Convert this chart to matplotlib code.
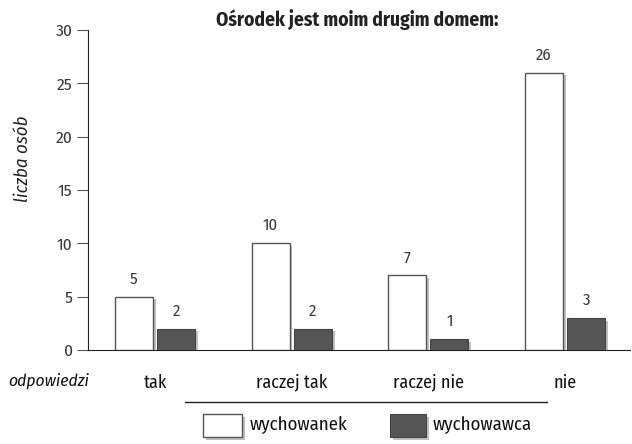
import matplotlib.pyplot as plt
import matplotlib.patheffects as pe
from matplotlib.lines import Line2D
from matplotlib.patches import Rectangle
import numpy as np

plt.rcParams['font.family'] = ['Fira Sans Condensed', 'PT Sans Narrow', 'Asap Condensed', 'DejaVu Sans']

categories = ['tak', 'raczej tak', 'raczej nie', 'nie']
wychowanek = [5, 10, 7, 26]
wychowawca = [2, 2, 1, 3]
series_names = ['wychowanek', 'wychowawca']

W, H = 632, 444
fig = plt.figure(figsize=(W / 100, H / 100), dpi=100)
ax = fig.add_axes([88 / W, 1 - 350 / H, (630 - 88) / W, 320 / H])

x = np.arange(len(categories))
bw = 0.278
off = 0.154
shadow = [pe.SimplePatchShadow(offset=(2, -2), shadow_rgbFace='#999999', alpha=0.6), pe.Normal()]

b1 = ax.bar(x - off, wychowanek, bw, color='white', edgecolor='#555555', linewidth=1.0,
            path_effects=shadow, zorder=3)
b2 = ax.bar(x + off, wychowawca, bw, color='#555555', edgecolor='#444444', linewidth=0.8,
            path_effects=shadow, zorder=3)

# liczby nad słupkami
for bars, vals in ((b1, wychowanek), (b2, wychowawca)):
    for r, v in zip(bars, vals):
        ax.text(r.get_x() + r.get_width() / 2, v + 0.9, str(v), ha='center', va='bottom',
                fontsize=12, color='#3a3a3a')

ax.set_xlim(-0.49, 3.475)
ax.set_ylim(0, 30)
ax.set_yticks(range(0, 31, 5))
ax.spines['top'].set_visible(False)
ax.spines['right'].set_visible(False)
ax.spines['left'].set_color('#222222')
ax.spines['bottom'].set_color('#222222')
ax.tick_params(axis='y', length=8, width=0.8, color='#555555', labelsize=12.5,
               labelcolor='#3a3a3a', pad=3)
ax.set_xticks(x)
ax.set_xticklabels(categories)
ax.tick_params(axis='x', length=0, labelsize=13, labelcolor='#111111', pad=17)

ax.set_title('Ośrodek jest moim drugim domem:', fontsize=14, fontweight='bold',
             color='#222222', pad=3, x=0.497)

fig.text(23 / W, 1 - 159 / H, 'liczba osób', rotation=90, style='italic', fontsize=13.5,
         ha='center', va='center', color='#222222')
fig.text(8 / W, 1 - 381 / H, 'odpowiedzi', style='italic', fontsize=12.5,
         ha='left', va='center', color='#111111')

# legenda
fig.add_artist(Line2D([185 / W, 547 / W], [1 - 402 / H, 1 - 402 / H], color='#222222', lw=1.0))
fig.add_artist(Rectangle((203 / W, 1 - 437 / H), 39 / W, 23 / H, facecolor='white',
                         edgecolor='#555555', lw=1.0, transform=fig.transFigure,
                         path_effects=shadow))
fig.add_artist(Rectangle((390 / W, 1 - 437 / H), 36 / W, 23 / H, facecolor='#555555',
                         edgecolor='#444444', lw=0.8, transform=fig.transFigure,
                         path_effects=shadow))
fig.text(250 / W, 1 - 425 / H, series_names[0], fontsize=13.5, va='center', color='#111111')
fig.text(433 / W, 1 - 425 / H, series_names[1], fontsize=13.5, va='center', color='#111111')

fig.savefig('out.png', dpi=100)
